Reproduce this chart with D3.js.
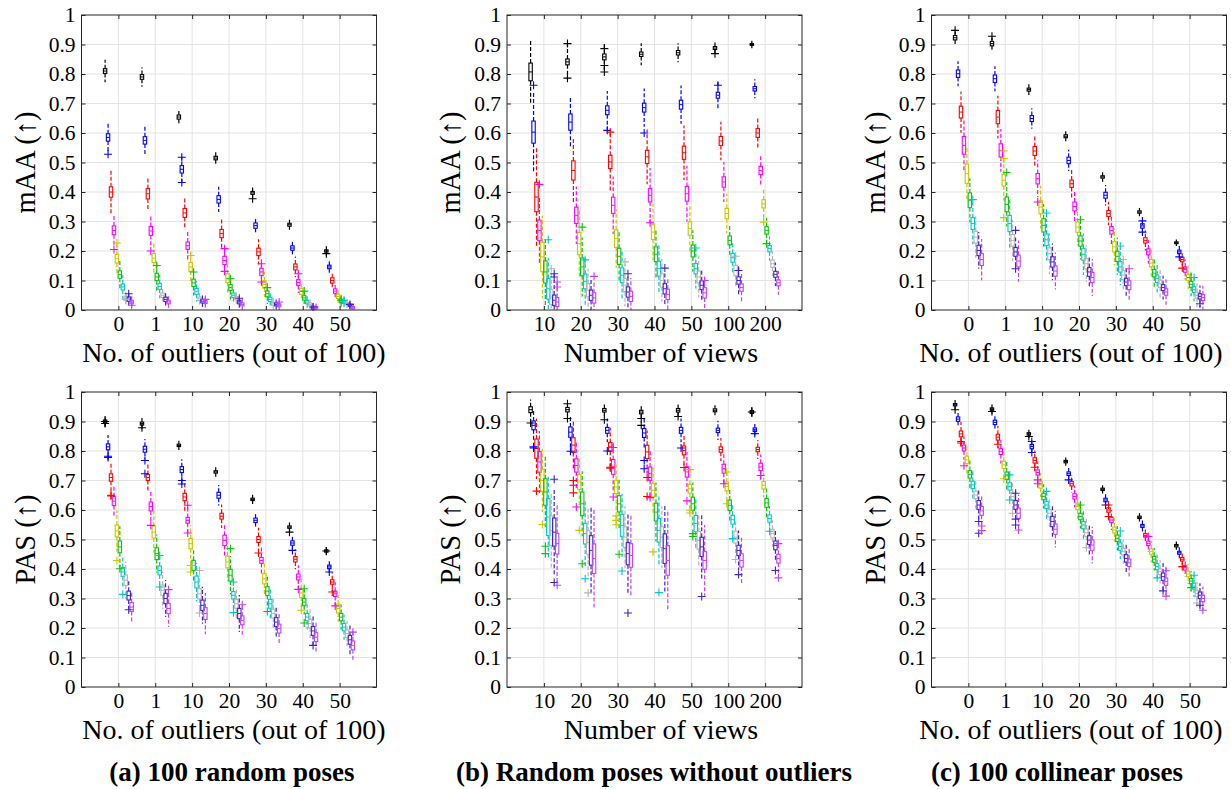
<!DOCTYPE html>
<html>
<head>
<meta charset="utf-8">
<script src="https://cdn.jsdelivr.net/npm/d3@7"></script>
<style>
  html, body { margin: 0; padding: 0; background: #fff; }
  svg { display: block; }
</style>
</head>
<body>
<svg id="chart" width="1231" height="789"></svg>
<script>
// ---------------- DATA ----------------
const outlierCats = ["0", "1", "10", "20", "30", "40", "50"];
const viewCats = ["10", "20", "30", "40", "50", "100", "200"];
const yTickValues = [0, 0.1, 0.2, 0.3, 0.4, 0.5, 0.6, 0.7, 0.8, 0.9, 1];
const seriesNames = ["s1", "s2", "s3", "s4", "s5", "s6", "s7", "s8", "s9", "s10"];
const seriesColors = ["#000000", "#0000ff", "#ff0000", "#ff00ff", "#c8c800", "#10c010", "#00c8c8", "#b4b4b4", "#4422cc", "#c040ff"];

// (a) 100 random poses — mAA
const aTopMed = [
  [.81, .79, .654, .515, .397, .289, .2],
  [.585, .575, .477, .375, .286, .21, .146],
  [.40, .394, .329, .259, .197, .146, .10],
  [.27, .268, .218, .168, .129, .093, .064],
  [.174, .176, .146, .108, .087, .063, .046],
  [.12, .112, .092, .076, .055, .041, .031],
  [.078, .08, .063, .05, .036, .027, .027],
  [.04, .05, .038, .04, .021, .019, .021],
  [.037, .036, .03, .027, .019, .008, .016],
  [.027, .027, .027, .019, .016, .008, .008]];
const aTopIqr = [
  [.016, .016, .014, .012, .01, .01, .008],
  [.025, .025, .025, .025, .018, .015, .012],
  [.035, .035, .03, .028, .025, .02, .018],
  [.03, .03, .025, .028, .025, .02, .015],
  [.03, .03, .03, .03, .025, .02, .015],
  [.025, .025, .025, .02, .02, .015, .012],
  [.02, .02, .02, .015, .015, .012, .01],
  [.015, .015, .012, .012, .01, .01, .008],
  [.015, .015, .012, .012, .01, .01, .008],
  [.012, .012, .01, .01, .01, .008, .008]];
const aTopWsk = [
  [.03, .025, .02, .018, .015, .012, .012],
  [.035, .035, .03, .03, .02, .018, .015],
  [.06, .04, .04, .035, .03, .025, .02],
  [.04, .04, .035, .035, .03, .025, .015],
  [.04, .035, .04, .035, .03, .02, .015],
  [.035, .035, .03, .03, .025, .02, .015],
  [.03, .03, .025, .02, .02, .015, .012],
  [.02, .02, .02, .015, .015, .012, .01],
  [.02, .02, .018, .015, .012, .01, .01],
  [.018, .018, .015, .015, .012, .01, .01]];
const aTopOut = [[0,1,.528],[0,3,.205],[0,4,.227],[0,8,.055],[0,9,.016],[0,7,.036],[1,3,.2],[1,5,.151],
  [2,1,.518],[2,1,.432],[2,4,.185],[2,5,.129],[2,9,.036],[3,3,.208],[3,3,.131],[3,5,.106],[3,8,.04],
  [4,0,.377],[4,3,.157],[4,3,.095],[4,5,.076],[4,9,.027],[5,3,.123],[5,5,.064],[5,8,.01],
  [6,0,.191],[6,5,.033],[6,6,.033],[6,8,.019]];

// (a) 100 random poses — PAS
const aBotMed = [
  [.90, .893, .819, .729, .636, .542, .461],
  [.814, .806, .737, .65, .565, .488, .407],
  [.71, .71, .644, .579, .50, .433, .356],
  [.63, .612, .565, .497, .429, .373, .316],
  [.529, .525, .486, .424, .367, .319, .266],
  [.475, .452, .412, .379, .325, .288, .237],
  [.39, .395, .356, .311, .282, .237, .203],
  [.362, .328, .316, .282, .249, .215, .181],
  [.31, .30, .277, .249, .22, .19, .16],
  [.271, .266, .249, .226, .198, .169, .141]];
const aBotIqr = [
  [.01, .01, .008, .008, .008, .008, .008],
  [.02, .02, .02, .02, .015, .015, .012],
  [.025, .02, .025, .02, .02, .018, .015],
  [.03, .03, .02, .035, .02, .02, .018],
  [.04, .04, .035, .04, .035, .03, .03],
  [.04, .04, .035, .04, .03, .025, .025],
  [.03, .03, .04, .025, .03, .025, .025],
  [.035, .035, .035, .03, .03, .03, .025],
  [.03, .035, .035, .035, .03, .03, .03],
  [.03, .035, .04, .03, .03, .03, .03]];
const aBotWsk = [
  [.02, .02, .012, .012, .012, .012, .01],
  [.03, .025, .025, .025, .02, .02, .02],
  [.04, .035, .035, .03, .03, .025, .025],
  [.04, .04, .035, .04, .035, .03, .03],
  [.05, .05, .045, .045, .04, .035, .03],
  [.05, .045, .04, .045, .035, .03, .03],
  [.04, .04, .045, .035, .035, .03, .03],
  [.045, .045, .045, .04, .04, .035, .03],
  [.04, .045, .045, .045, .04, .04, .035],
  [.04, .045, .05, .04, .04, .04, .035]];
const aBotOut = [[0,0,.9],[0,0,.893],[0,1,.782],[0,1,.778],[0,2,.65],[0,2,.648],[0,4,.429],[0,5,.401],[0,6,.314],[0,8,.262],
  [1,0,.879],[1,1,.768],[1,1,.723],[1,3,.548],[1,6,.446],[1,6,.339],[1,9,.33],
  [2,1,.70],[2,1,.688],[2,3,.616],[2,3,.522],[2,4,.412],[2,4,.39],[2,7,.395],[2,7,.251],
  [3,5,.469],[3,6,.356],[3,6,.252],[3,9,.279],[4,2,.454],[4,5,.256],
  [5,0,.525],[5,1,.463],[5,3,.331],[5,4,.26],[5,5,.333],[5,5,.217],[5,8,.141],
  [6,0,.461],[6,1,.39],[6,2,.322],[6,3,.275],[6,9,.186]];

// (b) Random poses without outliers — mAA
const bTopMed = [
  [.807, .841, .858, .867, .872, .888, .90],
  [.603, .637, .677, .686, .696, .728, .75],
  [.383, .473, .502, .519, .533, .573, .60],
  [.27, .321, .355, .389, .394, .434, .473],
  [.18, .225, .242, .264, .276, .327, .36],
  [.129, .146, .182, .189, .20, .236, .27],
  [.072, .097, .118, .14, .14, .177, .208],
  [.044, .067, .084, .10, .112, .134, .157],
  [.033, .05, .061, .072, .084, .10, .121],
  [.027, .041, .046, .053, .058, .076, .092]];
const bTopIqr = [
  [.06, .02, .02, .015, .015, .01, .006],
  [.075, .055, .03, .03, .03, .02, .015],
  [.1, .065, .045, .045, .045, .03, .03],
  [.07, .055, .055, .045, .05, .035, .028],
  [.1, .075, .06, .05, .045, .035, .028],
  [.075, .06, .055, .05, .04, .03, .025],
  [.07, .05, .05, .05, .035, .03, .022],
  [.05, .045, .045, .045, .04, .035, .025],
  [.035, .035, .035, .035, .03, .025, .02],
  [.03, .035, .035, .035, .035, .025, .02]];
const bTopWsk = [
  [.078, .05, .04, .03, .025, .02, .01],
  [.1, .06, .05, .05, .05, .035, .025],
  [.12, .08, .08, .07, .07, .05, .04],
  [.08, .07, .07, .07, .07, .05, .04],
  [.09, .08, .07, .07, .06, .05, .04],
  [.08, .07, .06, .06, .05, .04, .03],
  [.07, .06, .06, .06, .05, .04, .03],
  [.06, .05, .05, .05, .05, .04, .03],
  [.05, .04, .04, .04, .04, .035, .03],
  [.05, .04, .045, .04, .04, .035, .03]];
const bTopOut = [[0,1,.762],[0,3,.426],[0,6,.238],[0,7,.14],[0,8,.123],[0,8,.112],[0,9,.078],[0,9,.095],
  [1,0,.903],[1,0,.786],[1,5,.281],[1,6,.17],[1,9,.114],
  [2,0,.886],[2,0,.829],[2,0,.807],[2,1,.609],[2,2,.603],[2,7,.163],[2,8,.123],
  [3,1,.60],[3,3,.296],[3,8,.142],[4,6,.21],[4,9,.10],
  [5,0,.869],[5,1,.762],[5,7,.182],[5,8,.134],[6,4,.298],[6,5,.225]];

// (b) Random poses without outliers — PAS
const bBotMed = [
  [.94, .94, .938, .932, .938, .938, .932],
  [.887, .864, .87, .861, .87, .87, .872],
  [.808, .82, .814, .797, .802, .805, .805],
  [.763, .751, .746, .723, .729, .74, .746],
  [.70, .695, .678, .667, .672, .68, .684],
  [.661, .621, .621, .593, .621, .616, .624],
  [.576, .52, .548, .531, .554, .567, .571],
  [.53, .49, .508, .508, .497, .508, .52],
  [.525, .463, .452, .469, .475, .463, .48],
  [.486, .435, .446, .429, .429, .429, .435]];
const bBotIqr = [
  [.02, .015, .012, .012, .012, .01, .01],
  [.03, .035, .02, .03, .02, .015, .012],
  [.065, .05, .03, .045, .03, .018, .015],
  [.07, .045, .05, .045, .035, .03, .025],
  [.075, .05, .045, .045, .03, .03, .025],
  [.09, .08, .055, .06, .045, .035, .03],
  [.125, .07, .075, .08, .055, .03, .025],
  [.1, .08, .07, .07, .06, .04, .03],
  [.095, .1, .075, .1, .065, .035, .03],
  [.07, .1, .08, .1, .06, .045, .03]];
const bBotWsk = [
  [.025, .02, .015, .015, .015, .012, .012],
  [.04, .04, .03, .04, .03, .025, .02],
  [.07, .06, .05, .05, .04, .03, .025],
  [.07, .06, .06, .06, .05, .04, .03],
  [.07, .06, .06, .06, .05, .04, .03],
  [.08, .07, .06, .07, .05, .04, .035],
  [.08, .08, .07, .08, .06, .04, .03],
  [.08, .08, .07, .07, .06, .04, .03],
  [.1, .1, .1, .1, .08, .05, .04],
  [.1, .12, .1, .12, .09, .06, .04]];
const bBotOut = [[0,0,.895],[0,1,.814],[0,1,.81],[0,2,.664],[0,4,.551],[0,5,.477],[0,5,.452],[0,8,.704],[0,8,.354],[0,9,.345],
  [1,0,.96],[1,0,.91],[1,1,.799],[1,2,.70],[1,2,.684],[1,2,.658],[1,3,.61],[1,4,.531],[1,5,.418],[1,6,.367],[1,7,.319],
  [2,0,.906],[2,1,.80],[2,2,.742],[2,2,.745],[2,3,.812],[2,3,.644],[2,4,.58],[2,4,.565],[2,4,.55],[2,5,.45],[2,6,.393],[2,8,.251],
  [3,0,.91],[3,0,.887],[3,1,.768],[3,1,.74],[3,2,.71],[3,2,.646],[3,3,.642],[3,4,.458],[3,6,.32],
  [4,0,.917],[4,1,.81],[4,2,.744],[4,3,.631],[4,4,.737],[4,4,.60],[4,4,.59],[4,5,.52],[4,5,.51],[4,8,.307],
  [5,3,.689],[5,4,.729],[5,4,.621],[5,6,.503],[5,7,.432],[5,8,.381],
  [6,0,.932],[6,1,.859],[6,3,.717],[6,6,.528],[6,8,.395],[6,9,.486],[6,9,.37]];

// (c) 100 collinear poses — mAA
const cTopMed = [
  [.923, .903, .747, .589, .451, .332, .228],
  [.801, .784, .649, .507, .389, .285, .197],
  [.671, .654, .539, .428, .327, .236, .171],
  [.558, .541, .445, .351, .27, .197, .137],
  [.462, .44, .349, .281, .214, .159, .11],
  [.372, .358, .287, .234, .182, .125, .087],
  [.293, .293, .238, .189, .146, .106, .069],
  [.247, .236, .191, .157, .118, .089, .05],
  [.202, .197, .163, .129, .095, .076, .046],
  [.171, .166, .132, .11, .084, .061, .042]];
const cTopIqr = [
  [.015, .015, .01, .01, .008, .008, .006],
  [.025, .025, .02, .022, .02, .015, .012],
  [.04, .045, .03, .025, .02, .018, .015],
  [.06, .045, .035, .03, .025, .02, .018],
  [.065, .04, .045, .035, .035, .025, .02],
  [.05, .05, .045, .035, .035, .025, .02],
  [.04, .055, .04, .04, .035, .025, .02],
  [.04, .04, .04, .035, .03, .025, .02],
  [.035, .03, .035, .03, .025, .02, .018],
  [.04, .04, .035, .035, .03, .022, .02]];
const cTopWsk = [
  [.02, .02, .015, .012, .012, .01, .008],
  [.03, .03, .025, .025, .025, .02, .015],
  [.05, .05, .04, .035, .03, .025, .02],
  [.06, .05, .045, .04, .035, .03, .025],
  [.06, .05, .05, .045, .045, .035, .03],
  [.05, .05, .05, .045, .045, .035, .03],
  [.05, .055, .05, .05, .045, .035, .03],
  [.05, .05, .05, .045, .04, .035, .03],
  [.045, .04, .045, .04, .035, .03, .028],
  [.05, .05, .045, .045, .04, .032, .03]];
const cTopOut = [[0,0,.948],[0,6,.374],[1,0,.928],[1,4,.539],[1,4,.513],[1,5,.466],[1,4,.313],[1,8,.27],[1,8,.14],
  [2,3,.366],[2,6,.329],[3,5,.306],[4,6,.217],[4,7,.171],[4,9,.14],[5,1,.302],[5,1,.264],
  [6,1,.18],[6,2,.142],[6,5,.11],[6,6,.11],[6,8,.021]];

// (c) 100 collinear poses — PAS
const cBotMed = [
  [.957, .942, .858, .764, .67, .575, .479],
  [.908, .897, .815, .723, .634, .546, .455],
  [.858, .847, .768, .689, .60, .514, .433],
  [.81, .798, .727, .646, .566, .487, .404],
  [.77, .753, .685, .612, .532, .459, .383],
  [.721, .716, .646, .578, .504, .433, .359],
  [.685, .68, .617, .549, .476, .408, .342],
  [.651, .646, .589, .523, .459, .391, .317],
  [.617, .617, .561, .498, .436, .374, .311],
  [.597, .589, .535, .481, .421, .357, .30]];
const cBotIqr = [
  [.008, .008, .008, .008, .008, .008, .008],
  [.015, .015, .015, .012, .012, .01, .01],
  [.02, .02, .018, .015, .015, .012, .012],
  [.02, .02, .018, .018, .018, .015, .015],
  [.025, .025, .022, .022, .02, .018, .018],
  [.025, .025, .022, .022, .022, .02, .018],
  [.025, .025, .025, .025, .025, .02, .02],
  [.025, .025, .025, .025, .022, .02, .02],
  [.03, .03, .035, .03, .025, .025, .022],
  [.03, .035, .035, .035, .025, .025, .022]];
const cBotWsk = [
  [.012, .012, .01, .01, .01, .01, .01],
  [.02, .02, .02, .018, .018, .015, .015],
  [.03, .028, .025, .022, .022, .02, .02],
  [.03, .03, .028, .028, .025, .022, .022],
  [.035, .035, .03, .03, .03, .028, .025],
  [.035, .035, .03, .03, .03, .028, .025],
  [.035, .035, .035, .035, .03, .03, .028],
  [.035, .035, .035, .035, .03, .03, .028],
  [.04, .04, .04, .04, .035, .035, .03],
  [.04, .045, .045, .045, .035, .035, .03]];
const cBotOut = [[0,0,.94],[0,2,.832],[0,2,.827],[0,3,.75],[0,8,.561],[0,8,.521],[0,9,.546],[0,9,.53],
  [1,0,.934],[1,2,.823],[1,4,.706],[1,6,.719],[1,6,.634],[1,7,.589],[1,8,.657],[1,8,.569],[1,8,.549],[1,9,.532],
  [2,0,.849],[2,1,.832],[2,1,.795],[2,2,.745],[2,3,.702],[2,3,.689],[2,6,.663],
  [3,1,.702],[3,5,.617],[3,7,.472],[4,1,.617],[4,2,.617],[4,2,.578],[4,6,.529],
  [5,3,.51],[5,6,.37],[5,8,.326],[5,9,.308],[5,9,.394],
  [6,2,.408],[6,5,.337],[6,6,.379],[6,7,.285],[6,8,.277],[6,9,.26]];

const captions = ["(a) 100 random poses", "(b) Random poses without outliers", "(c) 100 collinear poses"];

// ---------------- LAYOUT ----------------
const W = 295, H = 295;
const colLeft = [81.5, 507, 931.5];
const xLabelCenter = [234, 661, 1071];
const rowTop = [15, 392];
const panels = [
  {col: 0, row: 0, med: aTopMed, iqr: aTopIqr, wsk: aTopWsk, out: aTopOut, cats: outlierCats, ylab: "mAA (\u2191)", xlab: "No. of outliers (out of 100)"},
  {col: 0, row: 1, med: aBotMed, iqr: aBotIqr, wsk: aBotWsk, out: aBotOut, cats: outlierCats, ylab: "PAS (\u2191)", xlab: "No. of outliers (out of 100)"},
  {col: 1, row: 0, med: bTopMed, iqr: bTopIqr, wsk: bTopWsk, out: bTopOut, cats: viewCats, ylab: "mAA (\u2191)", xlab: "Number of views"},
  {col: 1, row: 1, med: bBotMed, iqr: bBotIqr, wsk: bBotWsk, out: bBotOut, cats: viewCats, ylab: "PAS (\u2191)", xlab: "Number of views"},
  {col: 2, row: 0, med: cTopMed, iqr: cTopIqr, wsk: cTopWsk, out: cTopOut, cats: outlierCats, ylab: "mAA (\u2191)", xlab: "No. of outliers (out of 100)"},
  {col: 2, row: 1, med: cBotMed, iqr: cBotIqr, wsk: cBotWsk, out: cBotOut, cats: outlierCats, ylab: "PAS (\u2191)", xlab: "No. of outliers (out of 100)"}
];

const FONT = "'Liberation Serif', 'Times New Roman', serif";
const svg = d3.select("#chart");
const AXC = "#262626";
const GRID = "#e3e3e3";
const seriesStep = 0.08;

function yFmt(d) { return d === 0 ? "0" : d === 1 ? "1" : d3.format(".1f")(d); }

panels.forEach(p => {
  const left = colLeft[p.col], top = rowTop[p.row];
  const x = d3.scaleLinear().domain([0, 8]).range([left, left + W]);
  const y = d3.scaleLinear().domain([0, 1]).range([top + H, top]);
  const band = d3.scalePoint().domain(p.cats).range([1, 7]);
  const g = svg.append("g");

  // grid
  const grid = g.append("g");
  grid.selectAll("line.gy").data(yTickValues.slice(1, -1)).join("line")
    .attr("x1", left).attr("x2", left + W).attr("y1", d => y(d)).attr("y2", d => y(d))
    .attr("stroke", GRID).attr("stroke-width", 1);
  grid.selectAll("line.gx").data(p.cats).join("line")
    .attr("x1", d => x(band(d))).attr("x2", d => x(band(d))).attr("y1", top).attr("y2", top + H)
    .attr("stroke", GRID).attr("stroke-width", 1);

  // boxes
  const marks = g.append("g");
  p.med.forEach((row, s) => {
    const col = seriesColors[s];
    row.forEach((m, gi) => {
      const cx = x(band(p.cats[gi]) + (s - 4.5) * seriesStep);
      const q1 = m - p.iqr[s][gi] / 2, q3 = m + p.iqr[s][gi] / 2;
      const lo = Math.max(0, q1 - p.wsk[s][gi]), hi = Math.min(1, q3 + p.wsk[s][gi]);
      const bw = 1.7;
      marks.append("line").attr("x1", cx).attr("x2", cx).attr("y1", y(q3)).attr("y2", y(hi))
        .attr("stroke", col).attr("stroke-width", 1.2).attr("stroke-dasharray", "4,2");
      marks.append("line").attr("x1", cx).attr("x2", cx).attr("y1", y(q1)).attr("y2", y(lo))
        .attr("stroke", col).attr("stroke-width", 1.2).attr("stroke-dasharray", "4,2");
      marks.append("rect").attr("x", cx - bw).attr("y", y(q3)).attr("width", bw * 2)
        .attr("height", Math.max(1.5, y(q1) - y(q3)))
        .attr("fill", "none").attr("stroke", col).attr("stroke-width", 1.1);
      marks.append("line").attr("x1", cx - bw).attr("x2", cx + bw).attr("y1", y(m)).attr("y2", y(m))
        .attr("stroke", col).attr("stroke-width", 1);
    });
  });
  // outliers
  p.out.forEach(([gi, s, v]) => {
    const cx = x(band(p.cats[gi]) + (s - 4.5) * seriesStep), cy = y(v), r = 4;
    marks.append("path").attr("d", `M${cx - r},${cy}H${cx + r}M${cx},${cy - r}V${cy + r}`)
      .attr("stroke", seriesColors[s]).attr("stroke-width", 1.1).attr("fill", "none");
  });

  // axes
  const ax = g.append("g");
  const yl = ax.append("g").attr("transform", `translate(${left},0)`)
    .call(d3.axisLeft(y).tickValues(yTickValues).tickFormat(yFmt).tickSize(-4).tickPadding(6));
  const yr = ax.append("g").attr("transform", `translate(${left + W},0)`)
    .call(d3.axisRight(y).tickValues(yTickValues).tickFormat("").tickSize(-4));
  const xb = ax.append("g").attr("transform", `translate(0,${top + H})`)
    .call(d3.axisBottom(x).tickValues([1, 2, 3, 4, 5, 6, 7]).tickFormat(i => p.cats[i - 1]).tickSize(-4).tickPadding(6));
  const xt = ax.append("g").attr("transform", `translate(0,${top})`)
    .call(d3.axisTop(x).tickValues([1, 2, 3, 4, 5, 6, 7]).tickFormat("").tickSize(-4));
  [yl, yr, xb, xt].forEach(a => {
    a.attr("font-family", FONT).attr("font-size", 21.5);
    a.select(".domain").remove();
    a.selectAll("line").attr("stroke", AXC);
    a.selectAll("text").attr("fill", "#000");
  });
  g.append("rect").attr("x", left).attr("y", top).attr("width", W).attr("height", H)
    .attr("fill", "none").attr("stroke", AXC).attr("stroke-width", 1);

  // labels
  g.append("text").attr("transform", `translate(${left - 47},${top + H / 2}) rotate(-90)`)
    .attr("text-anchor", "middle").attr("font-family", FONT).attr("font-size", 28.5).text(p.ylab);
  g.append("text").attr("x", xLabelCenter[p.col]).attr("y", top + H + 52)
    .attr("text-anchor", "middle").attr("font-family", FONT).attr("font-size", 28).text(p.xlab);
});

captions.forEach((c, i) => {
  svg.append("text").attr("x", [232, 654, 1057][i]).attr("y", 781)
    .attr("text-anchor", "middle").attr("font-family", FONT).attr("font-weight", "bold")
    .attr("font-size", 27).text(c);
});
</script>
</body>
</html>
